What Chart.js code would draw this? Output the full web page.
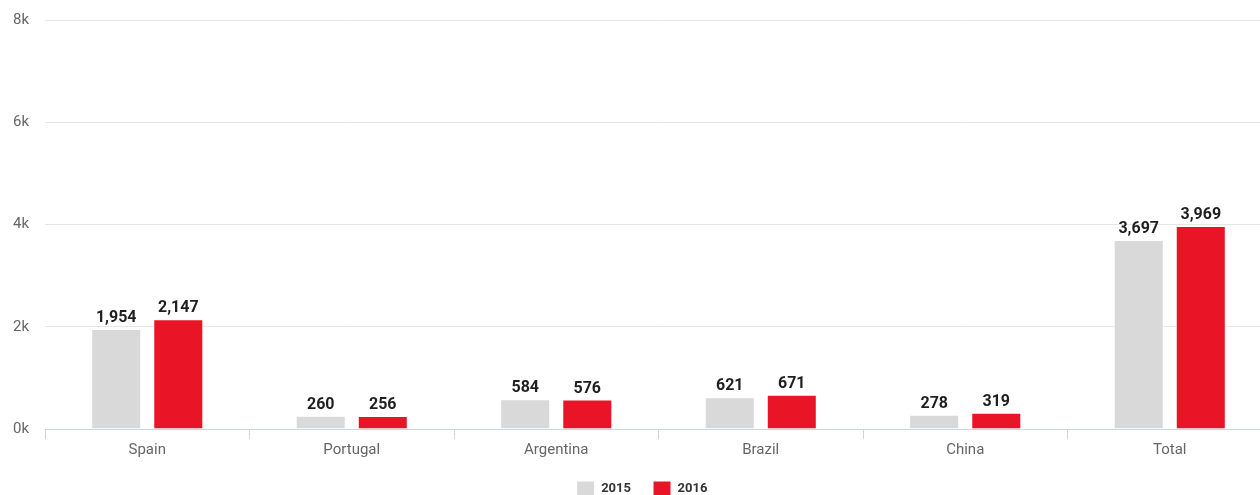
<!DOCTYPE html>
<html>
<head>
<meta charset="utf-8">
<script src="https://cdn.jsdelivr.net/npm/chart.js@4/dist/chart.umd.min.js"></script>
<style>
    html, body { margin: 0; padding: 0; background: #fff; overflow: hidden; }
    #clip { width: 1260px; height: 495px; overflow: hidden; }
    #wrap { width: 1272px; height: 507px; }
</style>
</head>
<body>
<div id="clip"><div id="wrap"><canvas id="countriesChart"></canvas></div></div>
<script>
const categories = ["Spain", "Portugal", "Argentina", "Brazil", "China", "Total"];
const values2015 = [1954, 260, 584, 621, 278, 3697];
const values2016 = [2147, 256, 576, 671, 319, 3969];
const yTicks = [0, 2000, 4000, 6000, 8000];

// draws the number above each bar
const valueLabels = {
    id: "valueLabels",
    afterLayout(chart) {
        // the legend sits a little right of the middle
        chart.legend.left += 6;
        chart.legend.right += 6;
    },
    afterDatasetsDraw(chart) {
        const ctx = chart.ctx;
        ctx.save();
        ctx.font = "bold 16px Roboto";
        ctx.fillStyle = "#1f1f1f";
        ctx.textAlign = "center";
        ctx.textBaseline = "bottom";
        chart.data.datasets.forEach((ds, i) => {
            chart.getDatasetMeta(i).data.forEach((bar, j) => {
                ctx.fillText(ds.data[j].toLocaleString("en-US"), bar.x, bar.y - 3);
            });
        });
        ctx.restore();
    }
};

new Chart(document.getElementById("countriesChart"), {
    type: "bar",
    data: {
        labels: categories,
        datasets: [
            {
                label: "2015",
                data: values2015,
                backgroundColor: "#d9d9d9",
                borderColor: "#ffffff",
                borderWidth: 1,
            },
            {
                label: "2016",
                data: values2016,
                backgroundColor: "#e91426",
                borderColor: "#ffffff",
                borderWidth: 1,
            },
        ],
    },
    options: {
        responsive: true,
        maintainAspectRatio: false,
        animation: false,
        datasets: { bar: { categoryPercentage: 0.607, barPercentage: 0.806 } },
        layout: { padding: { top: 20, right: 0, left: 0, bottom: 0 } },
        plugins: {
            tooltip: { enabled: false },
            legend: {
                position: "bottom",
                labels: {
                    boxWidth: 18,
                    boxHeight: 16,
                    padding: 22,
                    color: "#333",
                    font: { family: "Roboto", size: 13, weight: "bold" },
                },
            },
        },
        scales: {
            x: {
                grid: {
                    drawOnChartArea: false,
                    drawTicks: true,
                    tickLength: 10,
                    color: "#ccd6eb",
                },
                border: { color: "#ccd6eb" },
                ticks: {
                    color: "#666",
                    padding: 2,
                    font: { family: "Roboto", size: 15 },
                },
                afterFit(scale) { scale.height = 30; },
            },
            y: {
                min: 0,
                max: 8000,
                afterBuildTicks(scale) { scale.ticks = yTicks.map((v) => ({ value: v })); },
                grid: { color: "#e6e6e6", drawTicks: true, tickLength: 16, tickColor: "transparent" },
                border: { display: false },
                ticks: {
                    color: "#666",
                    padding: 0,
                    font: { family: "Roboto", size: 15 },
                    callback: (v) => v / 1000 + "k",
                },
                afterFit(scale) { scale.width = 45; },
            },
        },
    },
    plugins: [valueLabels],
});
</script>
</body>
</html>
